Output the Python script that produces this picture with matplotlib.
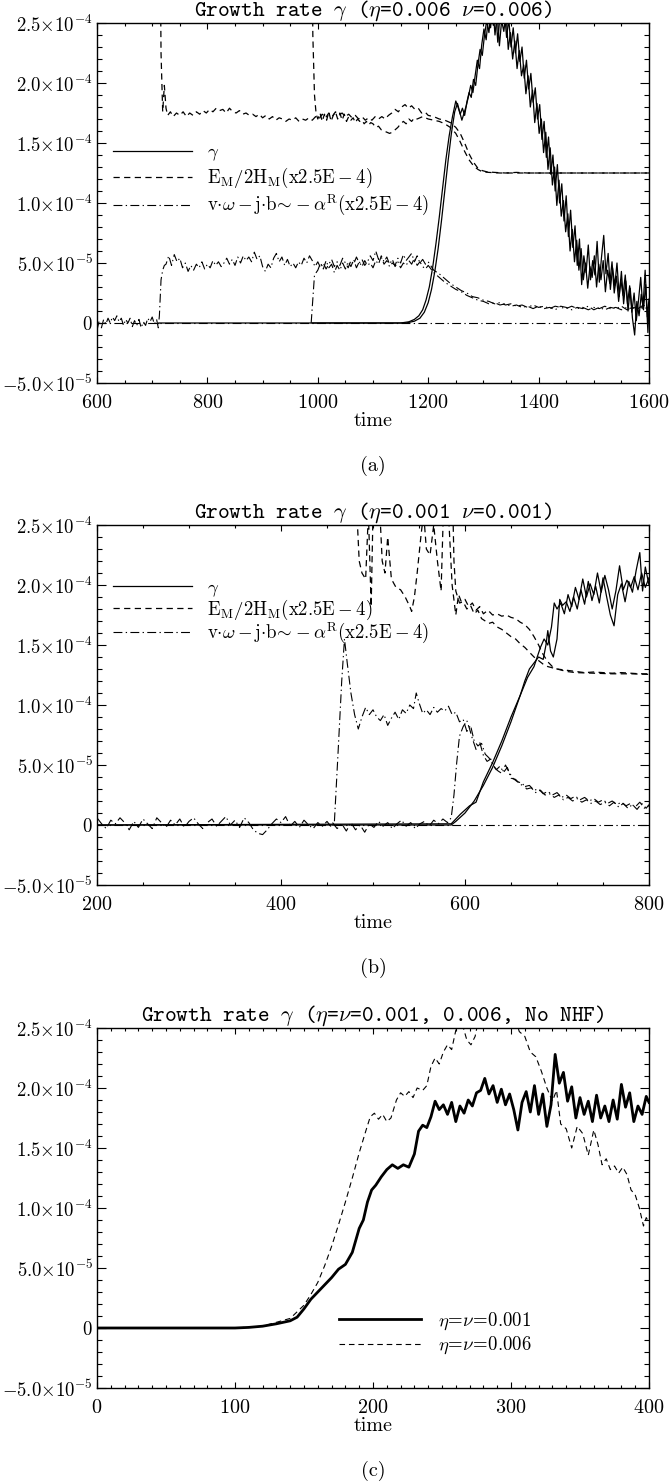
import numpy as np
import matplotlib.pyplot as plt
from matplotlib.ticker import MultipleLocator
from matplotlib.lines import Line2D

plt.rcParams['mathtext.fontset'] = 'cm'
plt.rcParams['font.family'] = 'cmr10'
plt.rcParams['axes.formatter.use_mathtext'] = True

# all values in units of 1e-5, (time, value) pairs
U = 1e-5

# ---- panel (a): eta = nu = 0.006 ----
a_gamma1 = [(712, 0), (1150, 0), (1165, 0.1), (1175, 0.3), (1183, 0.6), (1190, 1.1), (1196, 1.9),
            (1202, 3.0), (1208, 4.6), (1214, 6.6), (1220, 8.8), (1226, 11.2), (1232, 13.6), (1238, 15.6),
            (1244, 17.2), (1250, 18.5), (1254, 18.0), (1258, 17.4), (1262, 17.9), (1266, 17.3), (1270, 18.4),
            (1274, 19.2), (1278, 18.8), (1282, 20.3), (1286, 19.8), (1290, 21.5), (1294, 22.8), (1298, 22.3),
            (1302, 24.0), (1306, 25.2), (1310, 24.2), (1314, 26.0), (1318, 24.8), (1322, 26.4), (1326, 23.4),
            (1330, 25.6), (1334, 24.9), (1338, 26.1), (1342, 23.8), (1346, 25.3), (1350, 23.0), (1354, 24.6),
            (1358, 22.5), (1362, 24.1), (1366, 21.8), (1370, 23.0), (1374, 20.4), (1378, 21.9), (1382, 19.5),
            (1386, 20.8), (1390, 18.4), (1394, 19.6), (1398, 17.0), (1402, 18.2), (1406, 15.3), (1410, 16.8),
            (1414, 13.8), (1418, 15.5), (1422, 12.4), (1426, 14.0), (1430, 11.0), (1434, 13.2), (1438, 10.0),
            (1442, 11.6), (1446, 8.5), (1450, 10.6), (1454, 7.2), (1458, 9.4), (1462, 6.3), (1466, 8.1),
            (1470, 4.8), (1474, 7.0), (1478, 3.2), (1482, 5.6), (1486, 4.2), (1490, 6.5), (1494, 3.6),
            (1498, 5.2), (1502, 4.0), (1506, 6.8), (1510, 3.4), (1514, 5.5), (1518, 7.3), (1522, 4.1),
            (1526, 5.8), (1530, 2.8), (1534, 4.6), (1538, 3.1), (1542, 5.0), (1546, 2.2), (1550, 4.3),
            (1554, 1.6), (1558, 3.5), (1562, 1.0), (1566, 2.9), (1570, 0.4), (1574, -1.0), (1578, 1.8),
            (1582, 0.6), (1586, 2.4), (1590, 1.1), (1594, 3.2), (1598, -0.8), (1600, 1.5)]
a_gamma2 = [(990, 0), (1160, 0), (1175, 0.15), (1185, 0.4), (1193, 0.9), (1200, 1.7), (1206, 2.8),
            (1212, 4.3), (1218, 6.2), (1224, 8.5), (1230, 11.0), (1236, 13.5), (1242, 15.8), (1248, 17.6),
            (1253, 18.3), (1257, 17.6), (1261, 16.9), (1265, 17.5), (1269, 18.1), (1273, 18.9), (1277, 19.8),
            (1281, 19.2), (1285, 20.6), (1289, 21.9), (1293, 21.2), (1297, 23.2), (1301, 24.5), (1305, 23.6),
            (1309, 25.5), (1313, 24.6), (1317, 26.5), (1321, 24.0), (1325, 25.8), (1329, 23.1), (1333, 25.2),
            (1337, 24.3), (1341, 25.9), (1345, 22.8), (1349, 24.2), (1353, 22.0), (1357, 23.5), (1361, 21.2),
            (1365, 22.7), (1369, 20.6), (1373, 21.5), (1377, 19.1), (1381, 20.6), (1385, 18.0), (1389, 19.4),
            (1393, 16.7), (1397, 18.3), (1401, 15.8), (1405, 17.0), (1409, 14.2), (1413, 15.9), (1417, 12.8),
            (1421, 14.6), (1425, 11.5), (1429, 13.0), (1433, 9.8), (1437, 11.9), (1441, 8.9), (1445, 10.2),
            (1449, 7.6), (1453, 9.1), (1457, 6.0), (1461, 7.8), (1465, 5.1), (1469, 6.9), (1473, 4.4),
            (1477, 6.2), (1481, 3.6), (1485, 5.0), (1489, 2.9), (1493, 4.7), (1497, 3.8), (1501, 5.6),
            (1505, 3.0), (1509, 4.9), (1513, 3.6), (1517, 5.2), (1521, 2.6), (1525, 4.4), (1529, 3.3),
            (1533, 5.1), (1537, 2.5), (1541, 3.9), (1545, 1.8), (1549, 3.6), (1553, 2.3), (1557, 4.0),
            (1561, 1.6), (1565, 3.1), (1569, 0.9), (1573, 2.5), (1577, 0.2), (1581, 1.9), (1585, 3.8),
            (1589, 1.2), (1593, 4.4), (1597, 0.5), (1600, 2.0)]
a_ratio1 = [(713, 40), (716, 22.5), (719, 17.6), (722, 19.8), (725, 17.9), (728, 17.3), (733, 17.6),
            (738, 17.2), (744, 17.5), (750, 17.3), (756, 17.6), (762, 17.2), (768, 17.5), (774, 17.3),
            (780, 17.6), (786, 17.4), (792, 17.7), (798, 17.5), (804, 17.8), (810, 17.6), (816, 17.9),
            (822, 17.7), (828, 17.8), (834, 17.5), (840, 17.9), (846, 17.6), (852, 17.5), (858, 17.7),
            (864, 17.4), (870, 17.5), (876, 17.3), (882, 17.4), (888, 17.2), (894, 17.4), (900, 17.1),
            (906, 17.3), (912, 17.0), (918, 17.2), (924, 16.9), (930, 17.1), (936, 17.0), (942, 16.8),
            (948, 17.0), (954, 16.9), (960, 17.1), (966, 16.8), (972, 17.0), (978, 16.9), (984, 17.1),
            (990, 16.9), (996, 17.2), (1002, 17.0), (1008, 17.4), (1014, 17.1), (1020, 17.5), (1026, 17.2),
            (1032, 17.6), (1038, 17.3), (1044, 17.5), (1050, 17.2), (1056, 17.4), (1062, 17.1), (1068, 17.3),
            (1074, 17.0), (1080, 17.2), (1086, 16.9), (1092, 17.1), (1098, 16.9), (1104, 17.2), (1110, 17.0),
            (1116, 17.2), (1122, 17.0), (1128, 17.3), (1134, 17.5), (1140, 17.8), (1146, 17.6), (1152, 18.0),
            (1158, 18.2), (1164, 17.9), (1170, 18.1), (1176, 17.8), (1182, 17.9), (1188, 17.5), (1194, 17.6),
            (1200, 17.3), (1210, 17.2), (1220, 17.0), (1230, 16.9), (1240, 16.7), (1250, 16.3), (1258, 15.8),
            (1266, 15.0), (1274, 14.1), (1282, 13.4), (1290, 12.9), (1298, 12.7), (1306, 12.6), (1320, 12.55),
            (1340, 12.5), (1360, 12.55), (1380, 12.5), (1400, 12.5), (1450, 12.5), (1500, 12.5),
            (1550, 12.5), (1600, 12.5)]
a_ratio2 = [(988, 40), (991, 24), (994, 19), (997, 17.4), (1000, 17.0), (1004, 17.5), (1008, 16.8),
            (1012, 17.4), (1016, 16.9), (1020, 17.6), (1024, 16.8), (1028, 17.3), (1032, 17.6), (1036, 17.0),
            (1040, 17.5), (1044, 16.9), (1048, 17.4), (1052, 16.8), (1056, 17.2), (1060, 16.9), (1064, 17.1),
            (1068, 16.7), (1072, 17.0), (1076, 16.8), (1080, 16.9), (1084, 16.6), (1088, 16.8), (1092, 16.5),
            (1096, 16.7), (1100, 16.6), (1105, 16.3), (1110, 16.4), (1115, 16.1), (1120, 16.0), (1125, 15.9),
            (1130, 15.8), (1135, 15.9), (1140, 16.1), (1145, 16.3), (1150, 16.6), (1155, 16.8), (1160, 16.6),
            (1165, 17.0), (1170, 16.8), (1175, 17.1), (1180, 17.0), (1190, 17.2), (1200, 17.0), (1210, 16.9),
            (1220, 16.8), (1230, 16.6), (1240, 16.3), (1250, 15.8), (1258, 15.1), (1266, 14.3), (1274, 13.6),
            (1282, 13.1), (1290, 12.8), (1298, 12.6), (1310, 12.55), (1330, 12.5), (1360, 12.5), (1400, 12.5),
            (1450, 12.5), (1500, 12.5), (1550, 12.5), (1600, 12.5)]
a_alpha1 = [(600, -0.6), (604, 0.2), (608, -0.4), (612, 0.3), (616, -0.1), (620, 0.4), (624, 0.0),
            (628, 0.5), (632, 0.2), (636, 0.6), (640, 0.1), (644, 0.4), (648, -0.2), (652, 0.3), (656, 0.0),
            (660, 0.4), (664, -0.3), (668, 0.2), (672, -0.2), (676, 0.3), (680, -0.4), (684, 0.1),
            (688, -0.2), (692, 0.4), (696, 0.1), (700, 0.5), (704, -0.1), (708, 0.3), (711, -0.4),
            (713, 0.6), (716, 3.6), (719, 4.4), (722, 4.8),
            (725, 4.9), (730, 5.6), (735, 4.8), (740, 5.7), (745, 5.1), (750, 5.4), (755, 4.6), (760, 5.0),
            (765, 4.3), (770, 4.8), (775, 4.4), (780, 4.9), (785, 4.6), (790, 5.1), (795, 4.5), (800, 4.9),
            (805, 4.6), (810, 5.2), (815, 4.8), (820, 5.1), (825, 4.7), (830, 5.0), (835, 5.4), (840, 4.9),
            (845, 5.3), (850, 4.8), (855, 5.5), (860, 5.0), (865, 5.6), (870, 5.2), (875, 5.5), (880, 5.1),
            (885, 5.9), (890, 5.3), (895, 5.6), (900, 4.7), (905, 4.3), (910, 4.9), (915, 4.6), (920, 5.4),
            (925, 5.8), (930, 5.1), (935, 5.5), (940, 4.8), (945, 5.3), (950, 4.7), (955, 5.0), (960, 4.6),
            (965, 5.1), (970, 4.8), (975, 5.4), (980, 5.0), (985, 5.6), (990, 5.2), (995, 4.7), (1000, 5.1),
            (1005, 4.6), (1010, 5.0), (1015, 4.5), (1020, 4.9), (1025, 5.3), (1030, 4.7), (1035, 5.1),
            (1040, 4.8), (1045, 5.4), (1050, 5.0), (1055, 4.6), (1060, 5.2), (1065, 4.9), (1070, 5.5),
            (1075, 5.0), (1080, 5.3), (1085, 4.8), (1090, 5.1), (1095, 5.6), (1100, 5.2), (1105, 6.0),
            (1110, 5.3), (1115, 5.5), (1120, 4.9), (1125, 5.2), (1130, 4.7), (1135, 5.0), (1140, 4.8),
            (1145, 5.4), (1150, 5.0), (1155, 5.7), (1160, 5.2), (1165, 5.5), (1170, 5.8), (1175, 5.1),
            (1180, 5.6), (1185, 5.0), (1190, 5.3), (1195, 4.9), (1200, 5.1),
            (1210, 4.4), (1220, 4.1), (1230, 3.7), (1240, 3.3), (1250, 3.0), (1260, 2.7), (1270, 2.5),
            (1280, 2.2), (1290, 2.1), (1300, 1.9), (1310, 1.8), (1320, 1.6), (1330, 1.7), (1340, 1.5),
            (1350, 1.6), (1360, 1.4), (1370, 1.5), (1380, 1.3), (1390, 1.5), (1400, 1.3), (1410, 1.4),
            (1420, 1.2), (1430, 1.4), (1440, 1.3), (1450, 1.2), (1460, 1.4), (1470, 1.2), (1480, 1.3),
            (1490, 1.1), (1500, 1.3), (1510, 1.2), (1520, 1.4), (1530, 1.2), (1540, 1.3), (1550, 1.1),
            (1560, 1.3), (1570, 1.2), (1580, 1.4), (1590, 1.2), (1600, 1.3)]
a_alpha2 = [(988, 0), (991, 2.0), (994, 4.0), (1000, 4.4), (1005, 5.0), (1010, 4.5), (1015, 5.2),
            (1020, 4.6), (1025, 4.9), (1030, 4.2), (1035, 4.8), (1040, 4.4), (1045, 5.0), (1050, 4.5),
            (1055, 5.1), (1060, 4.7), (1065, 5.3), (1070, 4.6), (1075, 5.1), (1080, 4.7), (1085, 5.2),
            (1090, 4.8), (1095, 5.0), (1100, 4.6), (1105, 5.2), (1110, 4.9), (1115, 5.6), (1120, 5.1),
            (1125, 5.5), (1130, 4.9), (1135, 5.3), (1140, 4.7), (1145, 5.1), (1150, 4.6), (1155, 5.0),
            (1160, 4.8), (1165, 5.2), (1170, 4.9), (1175, 5.4), (1180, 4.8), (1185, 5.1), (1190, 4.7),
            (1195, 4.5), (1200, 4.8), (1210, 4.2), (1220, 3.8), (1230, 3.4), (1240, 3.1), (1250, 2.8),
            (1260, 2.6), (1270, 2.3), (1280, 2.1), (1290, 1.9), (1300, 1.8), (1310, 1.6), (1320, 1.7),
            (1330, 1.5), (1340, 1.6), (1350, 1.4), (1360, 1.5), (1370, 1.3), (1380, 1.4), (1390, 1.2),
            (1400, 1.4), (1410, 1.2), (1420, 1.3), (1430, 1.1), (1440, 1.4), (1450, 1.3), (1460, 1.1),
            (1470, 1.3), (1480, 1.2), (1490, 1.4), (1500, 1.1), (1510, 1.3), (1520, 1.1), (1530, 1.3),
            (1540, 1.2), (1550, 1.4), (1560, 1.1), (1570, 1.3), (1580, 1.2), (1590, 1.5), (1600, 1.1)]

# ---- panel (b): eta = nu = 0.001 ----
b_gamma1 = [(200, 0), (585, 0), (590, 0.3), (600, 1.0), (610, 2.0), (620, 3.3), (630, 4.8), (640, 6.6),
            (650, 8.6), (660, 10.8), (665, 12.0), (670, 13.0), (675, 13.5), (680, 14.0), (685, 13.8),
            (688, 15.0), (690, 16.2), (693, 14.5), (696, 14.0), (700, 15.5), (703, 18.8), (706, 18.3),
            (710, 18.6), (714, 17.8), (718, 19.0), (722, 18.0), (726, 19.6), (730, 18.4), (734, 20.3),
            (738, 18.7), (742, 19.9), (746, 18.5), (750, 20.6), (754, 19.0), (758, 17.5), (762, 16.6),
            (766, 19.2), (770, 20.1), (774, 18.6), (778, 20.3), (782, 19.4), (786, 21.2), (790, 22.7),
            (793, 19.5), (796, 21.5), (800, 20.0)]
b_gamma2 = [(200, 0), (585, 0.1), (595, 0.9), (605, 1.6), (612, 1.9), (620, 3.6), (630, 5.2), (640, 7.0),
            (650, 9.0), (660, 10.8), (668, 12.3), (675, 13.2), (682, 14.8), (686, 15.5), (690, 15.0),
            (694, 16.5), (697, 18.5), (700, 18.0), (704, 18.5), (708, 17.6), (712, 19.2), (716, 18.2),
            (720, 19.8), (724, 18.8), (728, 20.5), (732, 19.0), (736, 20.1), (740, 19.2), (744, 21.0),
            (748, 19.4), (752, 20.8), (756, 19.6), (760, 18.0), (764, 19.5), (768, 21.6), (772, 19.6),
            (776, 20.4), (780, 19.8), (784, 20.7), (788, 19.6), (792, 21.0), (796, 19.8), (800, 20.6)]
b_ratio1 = [(458, 60), (470, 40), (480, 30), (485, 22), (488, 21), (492, 20.5), (495, 26), (498, 18.2),
            (500, 26), (505, 30), (510, 22), (513, 21), (516, 24), (520, 20.5), (525, 19.8), (530, 19.6),
            (535, 19.0), (540, 18.2), (542, 17.8), (545, 19.0), (548, 21), (552, 24), (555, 26), (558, 23),
            (562, 22.5), (566, 25), (570, 22), (574, 19.5), (578, 30), (582, 26), (586, 20), (590, 17.5),
            (593, 19.2), (596, 18.6), (600, 18.8), (604, 18.2), (608, 18.5), (612, 17.9), (616, 18.2),
            (620, 17.6), (625, 17.9), (630, 17.5), (635, 17.6), (640, 17.4), (645, 17.5), (650, 17.3),
            (655, 17.2), (660, 16.9), (665, 16.7), (670, 16.3), (675, 15.7), (680, 15.0), (685, 14.2),
            (690, 13.6), (695, 13.2), (700, 13.0), (710, 12.9), (720, 12.8), (730, 12.7), (740, 12.75),
            (750, 12.7), (760, 12.65), (770, 12.7), (780, 12.65), (790, 12.6), (800, 12.6)]
b_ratio2 = [(583, 40), (588, 22), (590, 19.5), (594, 18.5), (598, 18.6), (602, 18.0), (606, 18.3),
            (610, 17.6), (614, 17.9), (618, 17.2), (622, 17.0), (626, 16.8), (630, 16.9), (635, 16.5),
            (640, 16.3), (645, 16.0), (650, 15.7), (655, 15.5), (660, 15.1), (665, 14.8), (670, 14.4),
            (675, 14.0), (680, 13.7), (685, 13.4), (690, 13.2), (700, 13.0), (710, 12.8), (720, 12.7),
            (740, 12.65), (760, 12.6), (780, 12.6), (800, 12.55)]
b_alpha1 = [(200, 0.6), (205, 0.1), (210, -0.3), (215, 0.4), (220, 0.1), (225, 0.6), (230, 0.2),
            (235, -0.4), (240, 0.3), (245, -0.2), (250, 0.5), (255, 0.1), (260, -0.3), (265, 0.6), (270, 0.2),
            (275, -0.2), (280, 0.4), (285, 0.0), (290, 0.5), (295, -0.2), (300, 0.3), (305, 0.6), (310, 0.1),
            (315, -0.3), (320, 0.2), (325, 0.5), (330, -0.1), (335, 0.3), (340, 0.7), (345, 0.0), (350, 0.4),
            (355, -0.2), (360, 0.6), (365, 0.2), (370, -0.4), (375, -0.7), (380, -0.8), (385, -0.4),
            (390, 0.1), (395, 0.5), (400, 0.2), (405, 0.7), (410, -0.1), (415, 0.3), (420, -0.2), (425, 0.4),
            (430, 0.0), (435, -0.3), (440, 0.2), (445, -0.1), (450, 0.3), (455, -0.2), (458, 0.2), (462, 6),
            (466, 12), (469, 15.5), (472, 13.5), (476, 11), (480, 9.2), (484, 8.0), (488, 9.0), (492, 9.8),
            (496, 9.2), (500, 9.6), (504, 9.0), (508, 8.7), (512, 9.2), (516, 8.3), (520, 8.9), (524, 9.4),
            (528, 8.8), (532, 9.6), (536, 9.3), (540, 10.0), (544, 9.7), (547, 11.0), (550, 10.2),
            (554, 9.3), (558, 9.6), (562, 9.2), (566, 9.8), (570, 9.4), (574, 9.7), (578, 9.5), (582, 9.9),
            (586, 9.2), (590, 9.4), (594, 8.6), (598, 8.8), (602, 7.8), (606, 8.3), (610, 7.0), (614, 6.6),
            (618, 6.8), (622, 5.9), (626, 5.6), (630, 5.1), (634, 4.6), (638, 4.9), (642, 4.4), (646, 4.8),
            (650, 3.9), (655, 3.8), (660, 3.4), (665, 3.2), (670, 3.3), (675, 2.9), (680, 3.0), (685, 2.6),
            (690, 2.8), (695, 2.5), (700, 2.7), (705, 2.3), (710, 2.5), (715, 2.2), (720, 2.4), (725, 2.1),
            (730, 2.3), (735, 2.0), (740, 2.2), (745, 1.9), (750, 2.1), (755, 1.8), (760, 2.0), (765, 1.7),
            (770, 1.9), (775, 1.6), (780, 1.8), (785, 1.5), (790, 1.9), (795, 1.4), (800, 1.6)]
b_alpha2 = [(456, 0.2), (461, -0.3), (466, 0.1), (471, -0.5), (476, 0.2), (481, -0.4), (486, 0.0),
            (491, -0.6), (496, 0.1), (501, -0.2), (506, 0.3), (511, -0.1), (516, 0.2), (521, -0.3),
            (526, 0.1), (531, 0.4), (536, -0.1), (541, 0.2), (546, -0.3), (551, 0.1), (556, 0.3), (561, -0.1),
            (566, 0.4), (571, 0.1), (576, 0.5), (581, 0.2), (585, 0.6), (588, 2.5), (591, 5.2), (594, 7.4),
            (598, 8.2), (602, 8.7), (605, 8.0), (608, 7.2), (612, 6.3), (616, 6.9), (620, 5.8), (624, 5.3),
            (628, 5.5), (632, 4.8), (636, 4.5), (640, 4.3), (644, 5.0), (648, 4.4), (652, 3.9), (657, 3.6),
            (662, 3.5), (667, 3.0), (672, 3.1), (677, 2.7), (682, 2.9), (687, 2.5), (692, 2.6), (697, 2.3),
            (702, 2.5), (707, 2.1), (712, 2.3), (717, 2.0), (722, 2.2), (727, 1.9), (732, 2.1), (737, 1.8),
            (742, 2.0), (747, 1.7), (752, 1.9), (757, 1.6), (762, 1.9), (767, 1.5), (772, 1.8), (777, 1.4),
            (782, 1.7), (787, 1.3), (792, 1.8), (797, 1.4), (800, 1.7)]

# ---- panel (c): no NHF ----
c_eta001 = [(0, 0), (100, 0), (110, 0.05), (120, 0.15), (130, 0.35), (140, 0.6), (145, 0.9), (150, 1.6),
            (155, 2.4), (160, 3.0), (165, 3.6), (170, 4.2), (175, 4.9), (180, 5.3), (185, 6.3), (188, 7.5),
            (190, 8.3), (193, 9.0), (196, 10.5), (199, 11.5), (202, 11.9), (206, 12.6), (210, 13.2),
            (214, 13.6), (218, 13.3), (222, 13.6), (226, 13.4), (230, 14.5), (233, 16.4), (236, 16.9),
            (239, 16.7), (242, 17.6), (245, 18.9), (248, 18.2), (251, 18.6), (254, 17.8), (257, 18.8),
            (260, 17.2), (263, 18.5), (266, 17.9), (269, 19.0), (272, 18.5), (275, 19.6), (278, 19.8),
            (281, 20.8), (284, 19.5), (287, 20.2), (290, 18.8), (293, 19.9), (296, 18.6), (299, 19.5),
            (302, 18.2), (305, 16.5), (308, 18.8), (311, 19.7), (314, 18.0), (317, 20.2), (320, 17.8),
            (323, 19.5), (326, 16.8), (329, 18.6), (332, 22.8), (335, 20.4), (338, 21.3), (341, 18.9),
            (344, 20.1), (347, 17.5), (350, 19.2), (353, 17.8), (356, 18.9), (359, 17.2), (362, 19.4),
            (365, 17.5), (368, 18.5), (371, 17.2), (374, 19.0), (377, 17.4), (380, 20.3), (383, 18.4),
            (386, 19.6), (389, 17.2), (392, 18.5), (395, 17.8), (398, 19.3), (400, 18.8)]
c_eta006 = [(0, 0), (100, 0), (120, 0.15), (140, 0.8), (150, 1.9), (155, 2.8), (160, 3.8), (165, 5.2),
            (170, 6.8), (175, 8.6), (180, 10.5), (185, 12.5), (190, 14.6), (195, 16.5), (198, 17.6),
            (201, 17.9), (204, 17.4), (207, 17.8), (210, 17.2), (213, 17.5), (217, 19.0), (220, 19.6),
            (223, 19.3), (226, 19.7), (229, 19.2), (232, 20.0), (236, 19.8), (239, 20.2), (242, 21.8),
            (245, 22.5), (248, 22.0), (251, 23.0), (254, 23.6), (257, 23.2), (260, 24.8), (264, 25.6),
            (268, 24.0), (271, 23.6), (274, 24.3), (277, 26.0), (282, 26.4), (288, 27.0), (294, 26.2),
            (300, 25.5), (303, 25.8), (306, 24.7), (310, 24.3), (314, 23.0), (318, 22.6), (322, 21.4),
            (326, 20.0), (330, 18.9), (333, 19.8), (336, 17.0), (340, 16.6), (344, 15.0), (348, 16.8),
            (352, 16.2), (356, 14.4), (360, 16.5), (363, 15.3), (366, 13.6), (369, 14.1), (372, 13.2),
            (375, 13.5), (378, 12.9), (381, 13.4), (384, 12.8), (387, 11.5), (390, 11.1), (393, 10.0),
            (396, 8.5), (398, 9.2), (400, 8.8)]

y_ticks = [-5e-5, 0, 5e-5, 1e-4, 1.5e-4, 2e-4, 2.5e-4]
y_tick_labels = [r'$\mathsf{-5.0{\times}10^{-5}}$', r'$\mathsf{0}$', r'$\mathsf{5.0{\times}10^{-5}}$',
                 r'$\mathsf{1.0{\times}10^{-4}}$', r'$\mathsf{1.5{\times}10^{-4}}$',
                 r'$\mathsf{2.0{\times}10^{-4}}$', r'$\mathsf{2.5{\times}10^{-4}}$']

titles = [r'Growth rate $\gamma$ ($\eta$=0.006 $\nu$=0.006)',
          r'Growth rate $\gamma$ ($\eta$=0.001 $\nu$=0.001)',
          r'Growth rate $\gamma$ ($\eta$=$\nu$=0.001, 0.006, No NHF)']
legend_labels = [r'$\gamma$', r'$\mathrm{E_M/2H_M(x2.5E-4)}$',
                 r'$\mathrm{v{\cdot}\omega-j{\cdot}b}\!\sim\!-\alpha^{\mathrm{R}}\mathrm{(x2.5E-4)}$']
c_labels = [r'$\eta\!=\!\nu\!=\!0.001$', r'$\eta\!=\!\nu\!=\!0.006$']

W, H = 669, 1484
DASH = (0, (5, 3.5))
DASHDOT = (0, (8, 3, 1.2, 3))
FS = 14.5


def xy(pairs):
    arr = np.array(pairs, dtype=float)
    return arr[:, 0], arr[:, 1] * U


def add_axes(fig, top_px):
    ax = fig.add_axes([97 / W, 1 - (top_px + 360) / H, 552 / W, 360 / H])
    return ax


def style(ax, xlo, xhi, xmaj, xmin, title, tag):
    ax.set_xlim(xlo, xhi)
    ax.set_ylim(-5e-5, 2.5e-4)
    xt = list(range(xlo, xhi + 1, xmaj))
    ax.set_xticks(xt)
    ax.set_xticklabels([r'$\mathsf{%d}$' % v for v in xt])
    ax.xaxis.set_minor_locator(MultipleLocator(xmin))
    ax.set_yticks(y_ticks)
    ax.set_yticklabels(y_tick_labels)
    ax.yaxis.set_minor_locator(MultipleLocator(1e-5))
    ax.tick_params(which='both', direction='in', top=True, right=True, width=0.8)
    ax.tick_params(axis='y', which='major', length=6.5, pad=3, labelsize=13.5)
    ax.tick_params(axis='y', which='minor', length=3.5)
    ax.tick_params(axis='x', which='major', length=4.5, pad=8, labelsize=FS)
    ax.tick_params(axis='x', which='minor', length=2.5)
    for s in ax.spines.values():
        s.set_linewidth(1.0)
    ax.set_title(title, family='cmtt10', fontsize=16, pad=3)
    ax.text(0.5, -38 / 360, 'time', transform=ax.transAxes, ha='center', va='center', fontsize=FS)
    ax.text(0.5, -83 / 360, tag, transform=ax.transAxes, ha='center', va='center', fontsize=FS)


fig = plt.figure(figsize=(W / 100, H / 100), dpi=100)

# (a)
ax = add_axes(fig, 23)
ax.axhline(0, color='k', lw=0.8, ls=DASHDOT)
for s in (a_alpha1, a_alpha2):
    ax.plot(*xy(s), color='k', lw=0.8, ls=DASHDOT)
for s in (a_ratio1, a_ratio2):
    ax.plot(*xy(s), color='k', lw=0.9, ls=DASH)
for s in (a_gamma1, a_gamma2):
    ax.plot(*xy(s), color='k', lw=0.9)
style(ax, 600, 1600, 200, 50, titles[0], '(a)')
handles = [Line2D([], [], color='k', lw=0.9), Line2D([], [], color='k', lw=0.9, ls=DASH),
           Line2D([], [], color='k', lw=0.8, ls=DASHDOT)]
ax.legend(handles, legend_labels, loc='upper left', bbox_to_anchor=(0.029, 0.665), frameon=False,
          handlelength=4.2, handletextpad=0.8, labelspacing=0.15, borderpad=0, borderaxespad=0,
          fontsize=13.5)

# (b)
ax = add_axes(fig, 525)
ax.axhline(0, color='k', lw=0.8, ls=DASHDOT)
for s in (b_alpha1, b_alpha2):
    ax.plot(*xy(s), color='k', lw=0.8, ls=DASHDOT)
for s in (b_ratio1, b_ratio2):
    ax.plot(*xy(s), color='k', lw=0.9, ls=DASH)
for s in (b_gamma1, b_gamma2):
    ax.plot(*xy(s), color='k', lw=0.9)
style(ax, 200, 800, 200, 50, titles[1], '(b)')
ax.legend(handles, legend_labels, loc='upper left', bbox_to_anchor=(0.029, 0.85), frameon=False,
          handlelength=4.2, handletextpad=0.8, labelspacing=-0.05, borderpad=0, borderaxespad=0,
          fontsize=13.5)

# (c)
ax = add_axes(fig, 1028)
l1, = ax.plot(*xy(c_eta001), color='k', lw=2.0)
l2, = ax.plot(*xy(c_eta006), color='k', lw=0.8, ls=DASH)
style(ax, 0, 400, 100, 10, titles[2], '(c)')
ax.legend([l1, l2], c_labels, loc='upper left', bbox_to_anchor=(0.438, 0.215), frameon=False,
          handlelength=4.4, handletextpad=0.9, labelspacing=0.15, borderpad=0, borderaxespad=0,
          fontsize=13.5)

fig.savefig('out.png', dpi=100)
